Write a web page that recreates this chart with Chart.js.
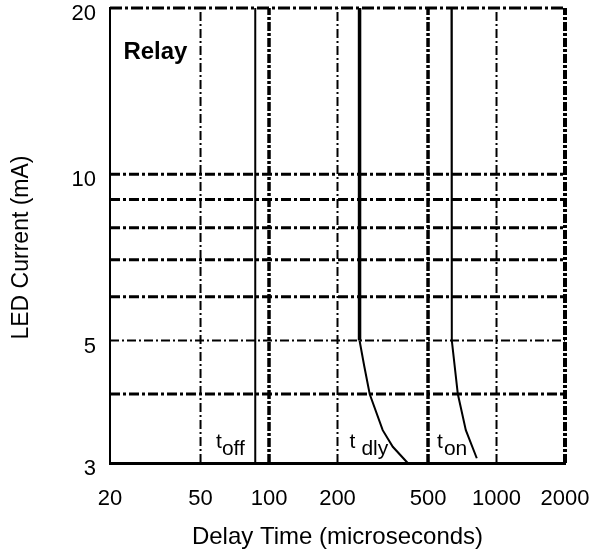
<!DOCTYPE html>
<html>
<head>
<meta charset="utf-8">
<script src="https://cdn.jsdelivr.net/npm/chart.js@4.4.1/dist/chart.umd.min.js"></script>
<style>
  html, body { margin: 0; padding: 0; background: #fff; }
</style>
</head>
<body>
<canvas id="chart" width="598" height="555"></canvas>
<script>
// Axis ranges and tick labels
const xRange = [20, 2000];
const yRange = [3, 20];
const xTicks = [20, 50, 100, 200, 500, 1000, 2000];
const yTicks = [3, 5, 10, 20];

// Grid lines
const hGridThick = [4, 6, 7, 8, 9, 10];
const hGridThin = [5];
const vGridThin = [50, 200, 1000];
const vGridThick = [100, 500];

// Curves (delay time in microseconds vs LED current in mA)
const toffX = [87, 87];
const toffY = [20, 3];
const tdlyX = [250, 250, 262, 277, 316, 350, 407];
const tdlyY = [20, 5, 4.5, 4, 3.44, 3.21, 3];
const tonX = [634, 636, 676, 733, 819];
const tonY = [20, 5, 4, 3.44, 3.06];

// Text annotations, anchored in data units
const notes = [
  { main: 't', sub: 'off', x: 58.5, y: 3.19, gap: 0 },
  { main: 't', sub: 'dly', x: 226, y: 3.19, gap: 6 },
  { main: 't', sub: 'on', x: 548, y: 3.19, gap: 1 }
];
const boxLabel = { text: 'Relay', x: 22.9, y: 16.2 };
const yTitle = 'LED Current (mA)';

const FAMILY = 'Liberation Sans';

// Helpers
const pts = (xs, ys) => xs.map((x, i) => ({ x, y: ys[i] }));

function lineSet(xs, ys, style) {
  return {
    data: pts(xs, ys),
    borderColor: '#000',
    pointRadius: 0,
    fill: false,
    tension: 0,
    clip: 6,
    order: 0,
    ...style
  };
}

function hLine(v, width, dash) {
  return lineSet(xRange, [v, v], { borderWidth: width, borderDash: dash, order: 1 });
}

function vLine(v, width, dash) {
  return lineSet([v, v], yRange, { borderWidth: width, borderDash: dash, order: 1 });
}

// No automatic padding: the plot box is fixed by the layout padding
function fixBox(s, size) {
  if (s.isHorizontal()) s.height = size; else s.width = size;
  s.paddingLeft = s.paddingRight = s.paddingTop = s.paddingBottom = 0;
}

const datasets = [
  lineSet(toffX, toffY, { borderWidth: 2 }),
  lineSet(tdlyX, tdlyY, {
    borderWidth: 2,
    segment: { borderWidth: ctx => ctx.p0DataIndex === 0 ? 3.5 : 2 }
  }),
  lineSet(tonX, tonY, { borderWidth: 2 }),
  ...hGridThick.map(v => hLine(v, 3, [10, 3, 3, 3])),
  ...hGridThin.map(v => hLine(v, 2, [9, 3, 2, 3])),
  ...vGridThin.map(v => vLine(v, 2, [9, 3, 2, 3])),
  ...vGridThick.map(v => vLine(v, 3.5, [9, 2, 3, 2])),
  vLine(xRange[1], 4, [9, 2, 3, 2]),
  hLine(yRange[1], 3, [12, 3, 3, 3])
];

// Draws "Relay", the t-labels with subscripts and the y title
const notesPlugin = {
  id: 'notes',
  afterDatasetsDraw(chart) {
    const { ctx, chartArea, scales: { x, y } } = chart;
    ctx.save();
    ctx.fillStyle = '#000';
    ctx.textAlign = 'left';
    ctx.textBaseline = 'alphabetic';

    ctx.font = `bold 24px "${FAMILY}"`;
    ctx.fillText(boxLabel.text, x.getPixelForValue(boxLabel.x), y.getPixelForValue(boxLabel.y));

    ctx.font = `21px "${FAMILY}"`;
    notes.forEach(n => {
      const px = x.getPixelForValue(n.x);
      const py = y.getPixelForValue(n.y);
      ctx.fillText(n.main, px, py);
      const w = ctx.measureText(n.main).width;
      ctx.fillText(n.sub, px + w + n.gap, py + 7);
    });

    // y axis title, a little below the middle of the plot as in the original
    ctx.translate(22, (chartArea.top + chartArea.bottom) / 2 + 12);
    ctx.rotate(-Math.PI / 2);
    ctx.textAlign = 'center';
    ctx.textBaseline = 'middle';
    ctx.font = `23px "${FAMILY}"`;
    ctx.fillText(yTitle, 0, 0);
    ctx.restore();
  }
};

new Chart(document.getElementById('chart'), {
  type: 'line',
  data: { datasets },
  options: {
    responsive: false,
    animation: false,
    layout: { autoPadding: false, padding: { top: 8, right: 33, left: 0, bottom: 0 } },
    plugins: { legend: { display: false }, tooltip: { enabled: false } },
    scales: {
      x: {
        type: 'logarithmic',
        min: xRange[0],
        max: xRange[1],
        afterBuildTicks: s => { s.ticks = xTicks.map(v => ({ value: v })); },
        afterFit: s => fixBox(s, 92),
        grid: { display: false, drawTicks: false },
        border: { display: true, color: '#000', width: 3 },
        ticks: {
          color: '#000',
          font: { family: FAMILY, size: 22 },
          padding: 23,
          maxRotation: 0,
          autoSkip: false,
          callback: v => String(v)
        },
        title: {
          display: true,
          text: 'Delay Time (microseconds)',
          color: '#000',
          font: { family: FAMILY, size: 24 },
          padding: { top: 0, bottom: 3 }
        }
      },
      y: {
        type: 'logarithmic',
        min: yRange[0],
        max: yRange[1],
        afterBuildTicks: s => { s.ticks = yTicks.map(v => ({ value: v })); },
        afterFit: s => fixBox(s, 110),
        grid: { display: false, drawTicks: false },
        border: { display: true, color: '#000', width: 2 },
        ticks: {
          color: '#000',
          font: { family: FAMILY, size: 22 },
          padding: 14,
          labelOffset: 6,
          autoSkip: false,
          callback: v => String(v)
        }
      }
    }
  },
  plugins: [notesPlugin]
});
</script>
</body>
</html>
